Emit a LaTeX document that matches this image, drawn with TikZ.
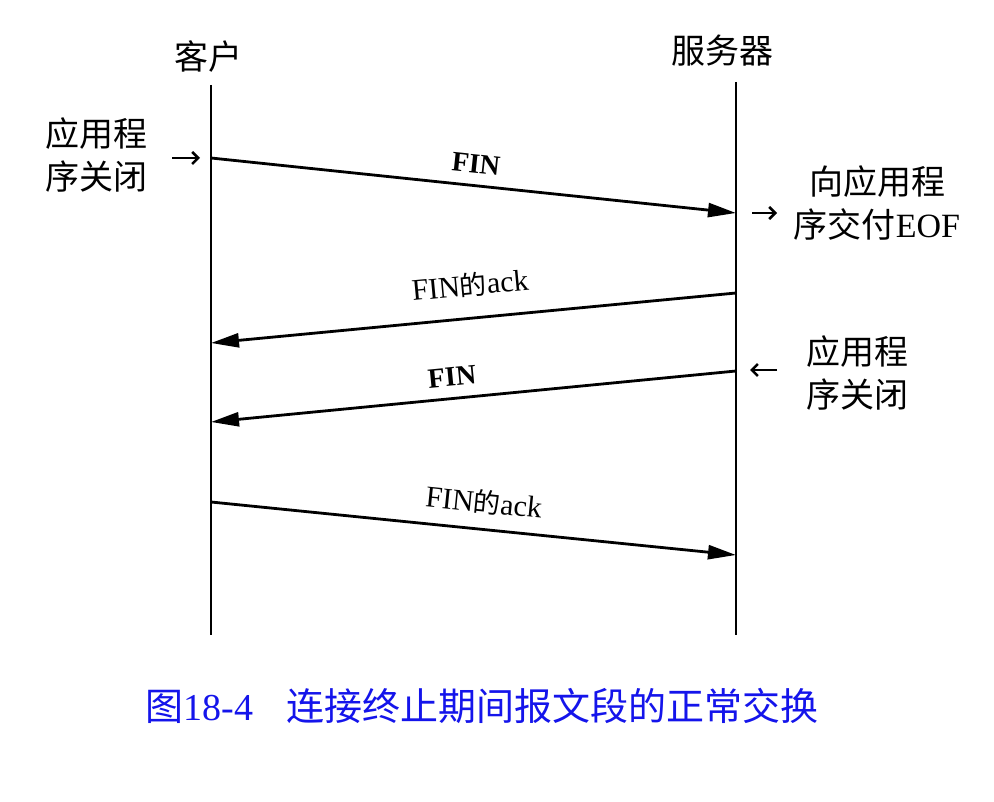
\documentclass[tikz,border=0pt]{standalone}
\usepackage{fontspec}
\setmainfont{Liberation Serif}
\newfontfamily\cjk{Noto Sans CJK SC}
\usetikzlibrary{arrows.meta}
\definecolor{capblue}{RGB}{20,20,235}
\begin{document}
\begin{tikzpicture}[x=1pt,y=-1pt,
  life/.style={line width=2.8pt},
  msg/.style={line width=2.8pt,-{Triangle[length=28pt,width=14pt]}},
  hint/.style={line width=2.5pt,-{Straight Barb[length=6pt,width=12pt]}},
  lbl/.style={font=\cjk\fontsize{34}{43}\selectfont, inner sep=0pt},
  fin/.style={font=\bfseries\fontsize{28}{30}\selectfont, inner sep=0pt},
  ack/.style={font=\fontsize{30}{32}\selectfont, inner sep=0pt},
]
\useasboundingbox[fill=white] (0,0) rectangle (994,802);
% lifelines
\coordinate (ctop) at (211,85);
\coordinate (cbot) at (211,635);
\coordinate (stop) at (736,82);
\coordinate (sbot) at (736,635);
\node[lbl] (client) at (208,57) {客户};
\node[lbl] (server) at (722,51) {服务器};
\draw[life] (ctop) -- (cbot);
\draw[life] (stop) -- (sbot);
% message end points
\coordinate (c1) at (211,158);
\coordinate (s1) at (736,213);
\coordinate (s2) at (736,293);
\coordinate (c2) at (211,343);
\coordinate (s3) at (736,371);
\coordinate (c3) at (211,422);
\coordinate (c4) at (211,502);
\coordinate (s4) at (736,555);
\draw[msg] (c1) -- (s1);
\draw[msg] (s2) -- (c2);
\draw[msg] (s3) -- (c3);
\draw[msg] (c4) -- (s4);
% message labels
\node[fin, rotate=-6] (l1) at (476,164) {FIN};
\node[ack, rotate=5.4] (l2) at (470,285) {FIN{\cjk\fontsize{27}{30}\selectfont 的}ack};
\node[fin, rotate=5.5] (l3) at (452,377) {FIN};
\node[ack, rotate=-5.8] (l4) at (484,502) {FIN{\cjk\fontsize{27}{30}\selectfont 的}ack};
% side notes
\node[lbl, anchor=west, align=left] (n1) at (45,154.5) {应用程\\序关闭};
\coordinate (h1a) at (172,158);
\coordinate (h1b) at (200,158);
\draw[hint] (h1a) -- (h1b);
\node[lbl, align=center] (n2) at (877,203) {向应用程\\序交付{\rmfamily EOF}};
\coordinate (h2a) at (752,213);
\coordinate (h2b) at (777,213);
\draw[hint] (h2a) -- (h2b);
\node[lbl, anchor=west, align=left] (n3) at (806,372.5) {应用程\\序关闭};
\coordinate (h3a) at (777,370);
\coordinate (h3b) at (750,370);
\draw[hint] (h3a) -- (h3b);
% caption
\node[inner sep=0pt, text=capblue, font=\fontsize{38}{40}\selectfont] (cap) at (482,706)
  {{\cjk 图}18-4\hspace{33pt}{\cjk 连接终止期间报文段的正常交换}};
\end{tikzpicture}
\end{document}
